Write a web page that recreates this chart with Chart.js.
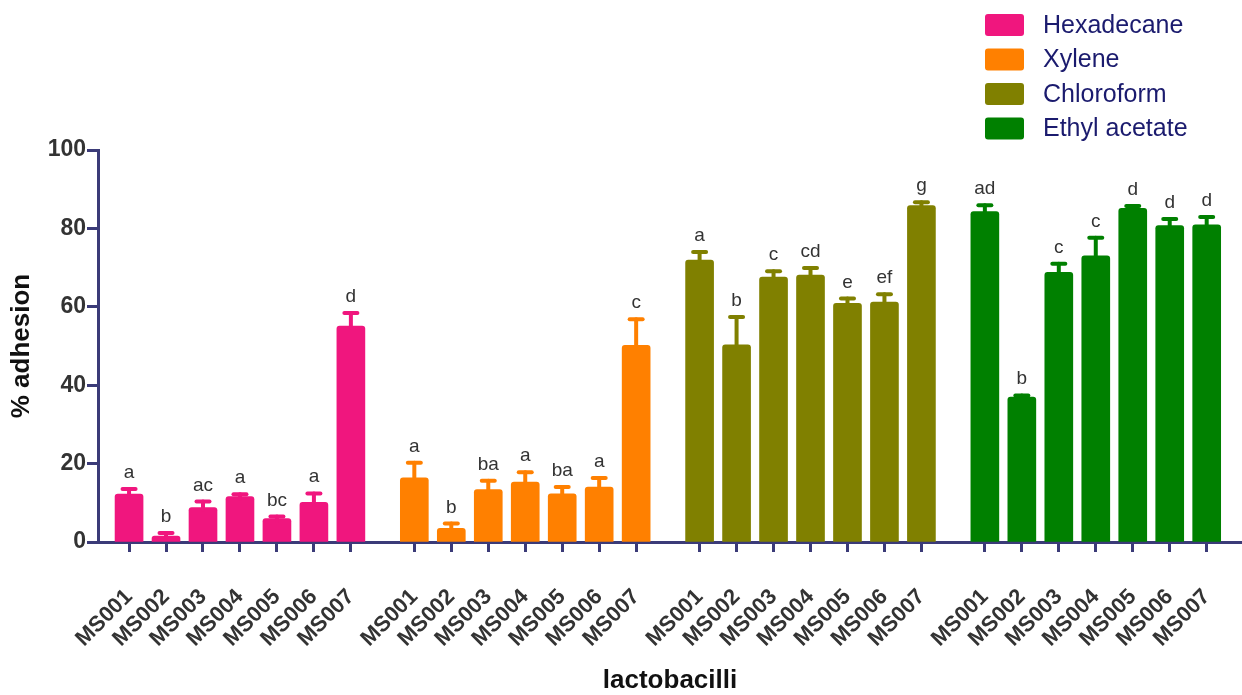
<!DOCTYPE html>
<html>
<head>
<meta charset="utf-8">
<title>% adhesion of lactobacilli to solvents</title>
<script src="https://cdn.jsdelivr.net/npm/chart.js@4.4.1/dist/chart.umd.min.js"></script>
<style>
  html, body { margin: 0; padding: 0; background: #ffffff; }
  #wrap { width: 1242px; height: 695px; }
</style>
</head>
<body>
<div id="wrap"><canvas id="c" width="1242" height="695"></canvas></div>
<script>
// Strains tested against each solvent
const strains = ['MS001', 'MS002', 'MS003', 'MS004', 'MS005', 'MS006', 'MS007'];
const solvents = ['Hexadecane', 'Xylene', 'Chloroform', 'Ethyl acetate'];

// Mean % adhesion per strain
const hexadecane   = [12.2, 1.5, 8.8, 11.6, 6.0, 10.1, 55.1];
const xylene       = [16.4, 3.5, 13.4, 15.3, 12.3, 14.0, 50.2];
const chloroform   = [71.9, 50.3, 67.6, 68.1, 60.9, 61.2, 85.8];
const ethylAcetate = [84.3, 37.0, 68.8, 73.0, 85.1, 80.7, 80.9];

// Standard deviation (upper error bar)
const hexadecaneErr   = [1.3, 0.8, 1.5, 0.6, 0.5, 2.3, 3.3];
const xyleneErr       = [3.8, 1.2, 2.2, 2.5, 1.7, 2.3, 6.6];
const chloroformErr   = [2.1, 7.1, 1.5, 1.8, 1.2, 2.0, 0.9];
const ethylAcetateErr = [1.6, 0.4, 2.2, 4.6, 0.6, 1.7, 2.0];

// Significance letters
const hexadecaneSig   = ['a', 'b', 'ac', 'a', 'bc', 'a', 'd'];
const xyleneSig       = ['a', 'b', 'ba', 'a', 'ba', 'a', 'c'];
const chloroformSig   = ['a', 'b', 'c', 'cd', 'e', 'ef', 'g'];
const ethylAcetateSig = ['ad', 'b', 'c', 'c', 'd', 'd', 'd'];

// Y axis ticks
const yTicks = [0, 20, 40, 60, 80, 100];

const colors = ['#F0167E', '#FF8000', '#808000', '#008000'];
const means = [hexadecane, xylene, chloroform, ethylAcetate];
const errs = [hexadecaneErr, xyleneErr, chloroformErr, ethylAcetateErr];
const sigs = [hexadecaneSig, xyleneSig, chloroformSig, ethylAcetateSig];

// Bars sit on a linear axis: one unit per strain, a wider gap between solvents
const groupGap = 1.716;
const slot = (g, i) => g * (strains.length - 1 + groupGap) + i;
const positions = [];
solvents.forEach((s, g) => strains.forEach((n, i) => positions.push(slot(g, i))));
const tickLabels = positions.map((p, k) => strains[k % strains.length]);

const FONT = "Arial, 'Liberation Sans', Helvetica, sans-serif";
const AXIS = '#3B3B78';
const TXT = '#333333';

const datasets = solvents.map((name, g) => ({
  label: name,
  data: strains.map((s, i) => ({ x: slot(g, i), y: means[g][i] })),
  err: errs[g],
  sig: sigs[g],
  backgroundColor: colors[g],
  borderWidth: 0,
  borderRadius: { topLeft: 3, topRight: 3, bottomLeft: 0, bottomRight: 0 },
  borderSkipped: 'start',
  barThickness: 28,
  maxBarThickness: 28,
  grouped: false
}));

// Upper error bars and significance letters
const errorBars = {
  id: 'errorBars',
  afterDatasetsDraw(chart) {
    const ctx = chart.ctx;
    const y = chart.scales.y;
    chart.data.datasets.forEach((ds, di) => {
      const meta = chart.getDatasetMeta(di);
      meta.data.forEach((bar, i) => {
        const top = y.getPixelForValue(ds.data[i].y);
        const cap = y.getPixelForValue(ds.data[i].y + ds.err[i]);
        ctx.save();
        ctx.strokeStyle = ds.backgroundColor;
        ctx.lineCap = 'round';
        ctx.lineWidth = 4;
        ctx.beginPath();
        ctx.moveTo(bar.x, top + 2);
        ctx.lineTo(bar.x, cap);
        ctx.stroke();
        ctx.beginPath();
        ctx.moveTo(bar.x - 6.5, cap);
        ctx.lineTo(bar.x + 6.5, cap);
        ctx.stroke();
        ctx.fillStyle = TXT;
        ctx.font = '19px ' + FONT;
        ctx.textAlign = 'center';
        ctx.textBaseline = 'alphabetic';
        ctx.fillText(ds.sig[i], bar.x, cap - 11);
        ctx.restore();
      });
    });
  }
};

// Stacked legend in the upper right corner
const sideLegend = {
  id: 'sideLegend',
  afterDraw(chart) {
    const ctx = chart.ctx;
    chart.data.datasets.forEach((ds, i) => {
      const yTop = 14 + i * 34.5;
      ctx.save();
      ctx.fillStyle = ds.backgroundColor;
      ctx.beginPath();
      ctx.roundRect(985, yTop, 39, 22, 3);
      ctx.fill();
      ctx.fillStyle = '#1B1B6E';
      ctx.font = '25px ' + FONT;
      ctx.textAlign = 'left';
      ctx.textBaseline = 'middle';
      ctx.fillText(ds.label, 1043, yTop + 12);
      ctx.restore();
    });
  }
};

new Chart(document.getElementById('c'), {
  type: 'bar',
  data: { datasets },
  plugins: [errorBars, sideLegend],
  options: {
    responsive: false,
    animation: false,
    layout: { padding: { top: 150, right: 0, left: 0, bottom: 0 } },
    plugins: { legend: { display: false }, tooltip: { enabled: false } },
    scales: {
      x: {
        type: 'linear',
        offset: false,
        min: -0.84,
        max: slot(solvents.length - 1, strains.length - 1) + 0.955,
        z: 1,
        afterBuildTicks(scale) { scale.ticks = positions.map(v => ({ value: v })); },
        afterFit(scale) { scale.height = 153; scale.paddingRight = 0; scale.paddingLeft = 0; },
        border: { display: true, color: AXIS, width: 3 },
        grid: { offset: false, drawOnChartArea: false, drawTicks: true, tickLength: 10, tickWidth: 3, tickColor: AXIS },
        ticks: {
          autoSkip: false,
          minRotation: 45,
          maxRotation: 45,
          padding: 32,
          labelOffset: 0,
          color: TXT,
          font: { family: FONT, size: 22, weight: 'bold' },
          callback: (v, i) => tickLabels[i]
        },
        title: {
          display: true,
          text: 'lactobacilli',
          color: '#111111',
          padding: { top: 0, bottom: 1 },
          font: { family: FONT, size: 26, weight: 'bold', lineHeight: 1 }
        }
      },
      y: {
        min: 0,
        max: 100,
        z: 1,
        afterBuildTicks(scale) { scale.ticks = yTicks.map(v => ({ value: v })); },
        afterFit(scale) { scale.width = 98; },
        border: { display: true, color: AXIS, width: 3 },
        grid: { drawOnChartArea: false, drawTicks: true, tickLength: 11, tickWidth: 3, tickColor: AXIS },
        ticks: {
          padding: 1,
          color: TXT,
          font: { family: FONT, size: 23, weight: 'bold' }
        },
        title: {
          display: true,
          text: '% adhesion',
          color: '#111111',
          padding: { top: 9, bottom: 0 },
          font: { family: FONT, size: 26, weight: 'bold', lineHeight: 1 }
        }
      }
    }
  }
});
</script>
</body>
</html>
